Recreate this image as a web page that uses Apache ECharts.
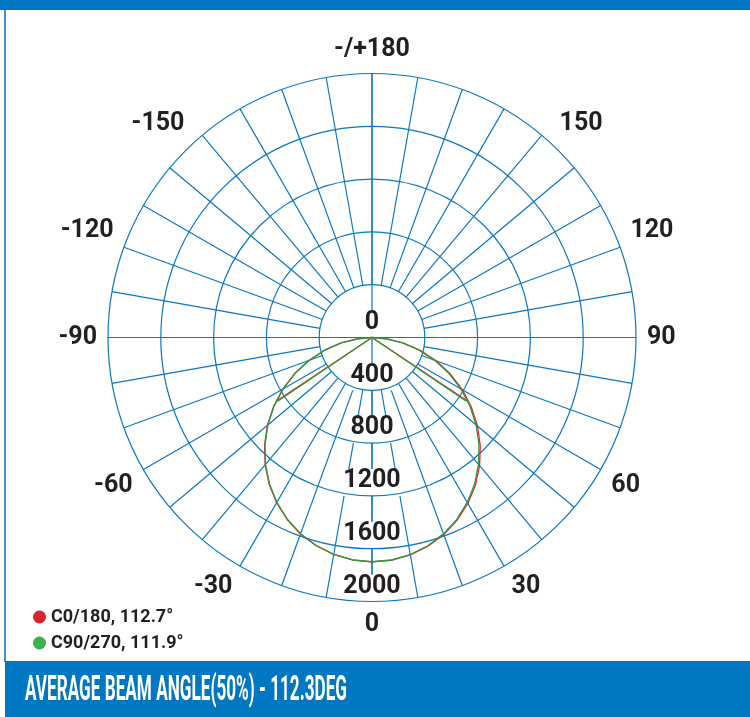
<!DOCTYPE html>
<html>
<head>
<meta charset="utf-8">
<script src="https://cdn.jsdelivr.net/npm/echarts@6/dist/echarts.min.js"></script>
<style>
  html, body { margin: 0; padding: 0; background: #fff; }
  #chart { width: 750px; height: 717px; }
</style>
</head>
<body>
<div id="chart"></div>
<script>
// luminous intensity (cd) per gamma angle
const arcAngles = [-90, -85, -80, -75, -70, -65, -60, -55, -50, -45, -40, -35, -30, -25, -20, -15, -10, -5,
  0, 5, 10, 15, 20, 25, 30, 35, 40, 45, 50, 55, 60, 65, 70, 75, 80, 85, 90];
const c0Values = [0, 110, 238, 372, 509, 646, 780, 910, 1034, 1151, 1259, 1358, 1445, 1521, 1584, 1633, 1669, 1692,
  1700, 1694, 1673, 1637, 1589, 1527, 1452, 1366, 1268, 1160, 1044, 919, 790, 655, 517, 378, 242, 113, 0];
const c90Values = [0, 109, 236, 370, 506, 642, 776, 905, 1029, 1146, 1255, 1354, 1442, 1518, 1582, 1631, 1668, 1691,
  1699, 1692, 1670, 1633, 1583, 1520, 1443, 1355, 1255, 1146, 1029, 905, 776, 642, 506, 370, 236, 109, 0];
// half-max points (beam angle / 2)
const c0Half = [56.35, 865];
const c90Half = [55.95, 862];

const seriesNames = ["C0/180, 112.7°", "C90/270, 111.9°"];
const radiusTicks = [0, 400, 800, 1200, 1600, 2000];
const angleTickLabels = ["-150", "-120", "-90", "-60", "-30", "0", "30", "60", "90", "120", "150", "-/+180"];
const angleLabelAt = [-137, -110, -90, -60.5, -30.5, 0, 30.5, 60.5, 90, 110, 137, 180];
const titleText = "AVERAGE BEAM ANGLE(50%) - 112.3DEG";

const FONT = 'Roboto, "Liberation Sans", sans-serif';
const BLUE = "#0a78c2";
const INK = "#231f20";
const CX = 372, CY = 337.5, R = 264;

function curve(values, half) {
  const pts = [[half[1], -half[0]]];
  arcAngles.forEach((a, i) => pts.push([values[i], a]));
  pts.push([half[1], half[0]]);
  return pts;
}

// squeeze the banner text to the condensed width of the original
const ctx = document.createElement("canvas").getContext("2d");
ctx.font = "bold 35px " + FONT;
const titleScale = 322 / ctx.measureText(titleText).width;

const gridLine = { color: BLUE, width: 1.2 };

const chart = echarts.init(document.getElementById("chart"));
chart.setOption({
  animation: false,
  backgroundColor: "#fff",
  polar: [
    { center: [CX, CY], radius: [0, R] },      // cross + radius labels
    { center: [CX, CY], radius: [R / 5, R] },  // spokes + rings
    { center: [CX, CY], radius: [0, R] },      // curves + angle labels
  ],
  angleAxis: [
    {
      polarIndex: 0, type: "value", min: 0, max: 360, interval: 90,
      startAngle: 270, clockwise: false,
      axisLine: { show: false },
      axisTick: { show: false }, axisLabel: { show: false },
      splitLine: { show: true, lineStyle: gridLine },
    },
    {
      polarIndex: 1, type: "value", min: 0, max: 360, interval: 10,
      startAngle: 270, clockwise: false,
      axisLine: { show: false }, axisTick: { show: false }, axisLabel: { show: false },
      splitLine: { show: true, lineStyle: gridLine },
    },
    {
      polarIndex: 2, type: "value", min: -180, max: 180,
      startAngle: 90, clockwise: false,
      axisLine: { show: false }, axisTick: { show: false }, splitLine: { show: false },
      axisLabel: {
        customValues: angleLabelAt,
        margin: 11,
        color: INK, fontSize: 25, fontWeight: "bold", fontFamily: FONT,
        formatter: (v) => {
          const i = angleLabelAt.indexOf(v);
          return i >= 0 ? angleTickLabels[i] : "";
        },
      },
    },
  ],
  radiusAxis: [
    {
      polarIndex: 0, type: "value", min: 0, max: 2000, interval: 400, z: 5,
      axisLine: { show: false }, axisTick: { show: false }, splitLine: { show: false },
      axisLabel: {
        margin: 0, align: "center", verticalAlign: "bottom",
        color: INK, fontSize: 25, fontWeight: "bold", fontFamily: FONT,
        lineHeight: 24, backgroundColor: "#fff", padding: [0, 1, 3, 1],
        customValues: radiusTicks,
        formatter: (v) => String(v),
      },
    },
    {
      polarIndex: 1, type: "value", min: 400, max: 2000, interval: 400, z: 6,
      axisLine: { show: false }, axisTick: { show: false }, axisLabel: { show: false },
      splitLine: { show: true, lineStyle: gridLine },
    },
    { polarIndex: 2, type: "value", min: 0, max: 2000, show: false },
  ],
  legend: {
    orient: "vertical", left: 28, top: 603,
    icon: "circle", itemWidth: 13, itemHeight: 13, itemGap: 8,
    textStyle: { color: INK, fontSize: 18, fontWeight: "bold", fontFamily: FONT },
    data: seriesNames,
  },
  series: [
    {
      name: seriesNames[0], type: "line", coordinateSystem: "polar", polarIndex: 2, z: 7,
      showSymbol: false, data: curve(c0Values, c0Half),
      itemStyle: { color: "#d8242e" }, lineStyle: { color: "#e0262b", width: 1.3 },
    },
    {
      name: seriesNames[1], type: "line", coordinateSystem: "polar", polarIndex: 2, z: 7,
      showSymbol: false, data: curve(c90Values, c90Half),
      itemStyle: { color: "#3cb14a" }, lineStyle: { color: "#2f9a3c", width: 1.3 },
    },
  ],
  graphic: [
    { type: "rect", shape: { x: 0, y: 0, width: 750, height: 10 }, style: { fill: "#0077c1" } },
    { type: "rect", shape: { x: 4, y: 10, width: 2, height: 652 }, style: { fill: "#3b93d0" } },
    { type: "rect", shape: { x: 5, y: 661, width: 745, height: 56 }, style: { fill: "#0077c1" } },
    {
      type: "text", x: 25, y: 691, scaleX: titleScale,
      style: { text: titleText, fill: "#fff", font: "bold 35px " + FONT, verticalAlign: "middle" },
    },
  ],
});
</script>
</body>
</html>
